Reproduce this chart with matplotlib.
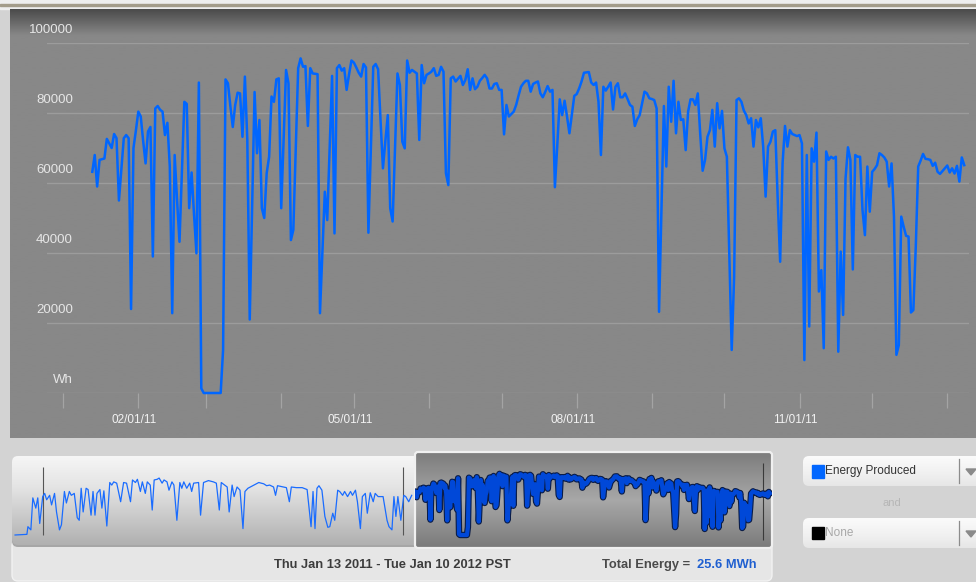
import numpy as np
import matplotlib
matplotlib.use("Agg")
import matplotlib.pyplot as plt
import matplotlib.dates as mdates
import matplotlib.patheffects as pe
import matplotlib.transforms as mtransforms
from matplotlib.patches import FancyBboxPatch, Rectangle, Polygon
from matplotlib.colors import to_rgb

plt.rcParams['font.family'] = ['Liberation Sans', 'DejaVu Sans']

W, H = 976, 582  # picture size in pixels

# Daily energy produced (kWh), Jan 13 2011 .. Jan 8 2012, read per month
jan_2011 = [63.2, 68, 59, 66.6, 66.8, 67, 72.6, 71.3, 70, 74, 72.8, 55, 64, 72.8, 73.7, 72.8, 24, 70, 75]
feb_2011 = [80.4, 79, 72, 65.6, 74.7, 76, 39, 81.3, 82, 80.9, 80.4, 73.7, 77.2, 64.7, 22.8, 68, 55, 43.2,
            63, 83.2, 82.6, 52.8, 63, 51, 39.9, 88.7, 1.3, 0]
mar_2011 = [0, 0, 0, 0, 0, 0, 0, 12.3, 89.6, 88.5, 82, 76, 82.3, 85.8, 85.6, 73.2, 90.4, 72.3, 21, 53, 86,
            68.5, 78, 52.8, 50, 62.8, 67.5, 84.7, 83.2, 89.6, 89.9]
apr_2011 = [52.8, 72.3, 92.3, 88.5, 43.7, 46.6, 70, 92.8, 95.6, 93.2, 93.4, 76.3, 92.8, 91.3, 91.2, 91.1,
            22.8, 40, 57.5, 49.4, 70, 90.6, 45.6, 92.8, 93.7, 92.1, 92.8, 86.6, 91, 95]
may_2011 = [94.4, 93, 91.5, 90.4, 94, 93, 45.8, 69.5, 93.2, 94, 92.5, 78, 64.2, 72, 79.4, 52.8, 49, 70,
            91.3, 88, 71.8, 69.9, 95, 91.5, 92.3, 91.8, 91.3, 72.3, 93.7, 88.5, 90.9]
jun_2011 = [91.3, 91.8, 92.8, 90.6, 90.9, 93.2, 91.8, 62.8, 59.4, 89.9, 90.4, 89, 89.8, 90.6, 88, 89.4,
            92.5, 86.6, 89.9, 86.8, 87.5, 89.2, 90, 90.9, 89.9, 87, 87, 88.3, 88.5, 86.6]
jul_2011 = [86.6, 73.9, 82.3, 79, 79.7, 80.4, 82.3, 85, 87.5, 88.5, 89.2, 89.2, 86.1, 88.3, 88.7, 89, 85.6,
            84.5, 86, 87.7, 86.1, 86.6, 58.8, 71, 83.9, 79.4, 83.5, 79, 74.2, 79.5, 84.9]
aug_2011 = [85.4, 87, 89, 91.5, 91.6, 91.7, 88.7, 88, 88.7, 83.2, 68, 87.5, 86.4, 87.5, 88.7, 81, 87.5,
            88.5, 84.5, 84.5, 85.6, 84, 82.3, 81.8, 76.3, 78.2, 79.4, 82.8, 86.1, 85.6, 84.2]
sep_2011 = [84, 83.7, 81.3, 23.2, 52, 82, 64.7, 87.5, 77.5, 89.2, 74.2, 83.2, 78, 78.2, 69.4, 80.4, 83.9,
            83.9, 82.3, 85.6, 74, 63.5, 66.6, 73.2, 75.1, 80.9, 70.4, 82.8, 75.6, 80.6]
oct_2011 = [69.9, 67.5, 40, 12.3, 33.2, 83.7, 84.2, 83.2, 80.7, 79.4, 77, 78.5, 70.4, 78, 75.9, 78.5, 70.4,
            56.1, 70.4, 71.8, 74.7, 75.1, 55.1, 37.5, 65.6, 76.3, 70.4, 75.1, 74, 73.7, 73.4]
nov_2011 = [73.7, 71.3, 9.4, 68, 19, 69.9, 66.1, 74.4, 29, 35.1, 12.8, 69, 66.6, 67.5, 67, 67.5, 11.8, 40.4,
            22.3, 61.3, 70.2, 66.6, 35.3, 68, 67.5, 67.5, 52.3, 45.1, 64.7, 51.8]
dec_2011 = [63.2, 64, 65.1, 68.5, 68, 67.3, 66.1, 59, 65.6, 50.4, 10.9, 13.7, 50.4, 47.5, 44.9, 44.7, 23,
            23.7, 41.8, 64.7, 66.4, 68.3, 66.9, 66.8, 66.6, 64.9, 65.8, 63.2, 62.6, 63.4, 64.2]
jan_2012 = [65, 63, 64.2, 62.7, 64.9, 60.4, 67.3, 65.1]

# Earlier history shown in the navigator strip: day offset from Jan 1 2010 and kWh
prev_day = [-28, -16, -15, -12, -10, -7, -5, -3, 0, 2, 4, 7, 9, 12, 14, 17, 19, 22, 24, 27, 29, 32, 35, 37,
            39, 41, 44, 46, 49, 51, 53, 55, 58, 60, 62, 65, 68, 70, 72, 75, 79, 82, 85, 89, 91, 94, 96, 99,
            101, 104, 106, 109, 111, 113, 116, 118, 121, 123, 126, 128, 131, 133, 136, 139, 141, 143, 146,
            149, 151, 153, 158, 160, 163, 168, 173, 176, 179, 181, 187, 189, 192, 194, 197, 200, 203, 205,
            208, 214, 219, 224, 227, 230, 234, 236, 238, 244, 247, 250, 252, 257, 263, 268, 272, 274, 276,
            278, 280, 283, 286, 289, 291, 294, 296, 299, 301, 304, 306, 309, 312, 314, 317, 319, 322, 324,
            327, 329, 332, 335, 337, 340, 345, 349, 351, 354, 356, 358, 360, 363, 366, 368, 371, 374]
prev_kwh = [0, 1, 13, 8, 58, 42, 58, 18, 60, 65, 55, 62, 47, 65, 36, 8, 16, 68, 50, 68, 62, 65, 27, 23,
            73, 36, 73, 71, 31, 68, 31, 65, 71, 42, 69, 14, 82, 78, 83, 81, 52, 82, 81, 52, 86, 82, 87, 68,
            83, 65, 83, 78, 39, 86, 87, 89, 81, 86, 83, 70, 83, 78, 23, 82, 73, 83, 73,
            81, 68, 81, 82, 31, 82, 85, 83, 81, 39, 82, 75, 36, 78, 60, 75, 70, 10, 68,
            73, 78, 82, 80, 77, 78, 75, 62, 77, 75, 74, 52, 75, 74, 74, 71, 13, 68, 10,
            73, 77, 70, 29, 12, 13, 34, 23, 70, 68, 62, 68, 60, 68, 62, 70, 52, 10, 60,
            65, 34, 66, 52, 65, 60, 60, 23, 13, 8, 60, 29, 60, 23, 62, 60, 52, 62]

y_ticks = [0, 20000, 40000, 60000, 80000, 100000]
y_labels = ["Wh", "20000", "40000", "60000", "80000", "100000"]

energy_wh = np.concatenate([jan_2011, feb_2011, mar_2011, apr_2011, may_2011, jun_2011, jul_2011,
                            aug_2011, sep_2011, oct_2011, nov_2011, dec_2011, jan_2012]) * 1000
days = np.datetime64('2011-01-13') + np.arange(len(energy_wh))
prev_dates = np.datetime64('2010-01-01') + np.array(prev_day)
prev_wh = np.array(prev_kwh) * 1000


def px_rect(x0, y0, x1, y1):
    # pixel box (from top left) -> figure fraction
    return [x0 / W, 1 - y1 / H, (x1 - x0) / W, (y1 - y0) / H]


def vgrad(ax, x0, x1, y0, y1, stops, clip=None, z=0):
    pos = np.linspace(0, 1, 256)
    ps = [p for p, c in stops]
    cols = np.array([to_rgb(c) for p, c in stops])
    img = np.stack([np.interp(pos, ps, cols[:, k]) for k in range(3)], axis=-1)[:, None, :]
    im = ax.imshow(img, extent=(x0, x1, y1, y0), aspect='auto', interpolation='bilinear', zorder=z)
    if clip is not None:
        im.set_clip_path(clip)
    return im


fig = plt.figure(figsize=(W / 100, H / 100), dpi=100, facecolor='#d3d3d3')

# background layer in pixel coordinates
bg = fig.add_axes([0, 0, 1, 1])
bg.axis('off')
bg.add_patch(Rectangle((0, 0), W, 9, color='#eeeeee', zorder=0))
bg.add_patch(Rectangle((0, 3.5), W, 2, color='#a39c8a', zorder=1))
vgrad(bg, 10, W, 9, 438, [(0, '#4c4c4c'), (0.06, '#888888'), (1, '#888888')], z=1)

# info bar under the navigator
info = FancyBboxPatch((12, 540), 760, 41, boxstyle='round,pad=0,rounding_size=6',
                      facecolor='#e6e6e6', edgecolor='#f2f2f2', lw=1, zorder=1)
bg.add_patch(info)

# navigator left part
bg.add_patch(FancyBboxPatch((12, 458), 411, 89, boxstyle='round,pad=0,rounding_size=6',
                            facecolor='#a6a6a6', edgecolor='none', zorder=2))
navbox = FancyBboxPatch((12, 456), 411, 89, boxstyle='round,pad=0,rounding_size=6',
                        facecolor='none', edgecolor='none', zorder=2)
bg.add_patch(navbox)
vgrad(bg, 12, 423, 456, 545, [(0, '#f6f6f6'), (0.35, '#e4e4e4'), (1, '#b0b0b0')], clip=navbox, z=2)

# selected window
win = FancyBboxPatch((415, 452), 357, 96, boxstyle='round,pad=0,rounding_size=3',
                     facecolor='none', edgecolor='#f0f0f0', lw=1.6, zorder=4)
bg.add_patch(win)
vgrad(bg, 415, 772, 452, 548, [(0, '#7c7c7c'), (0.5, '#a8a8a8'), (1, '#7a7a7a')], clip=win, z=3)

# dropdowns
for top in (456, 518):
    dd = FancyBboxPatch((803, top), 190, 30, boxstyle='round,pad=0,rounding_size=6',
                        facecolor='none', edgecolor='none', zorder=2)
    bg.add_patch(dd)
    vgrad(bg, 803, W, top, top + 30, [(0, '#fbfbfb'), (0.6, '#f0f0f0'), (1, '#e6e6e6')], clip=dd, z=2)
    bg.plot([959, 959], [top + 3, top + 27], color='#8c8c8c', lw=0.9, zorder=3)
    bg.add_patch(Polygon([(966, top + 13), (976, top + 13), (971, top + 19)], closed=True,
                         color='#8a8a8a', zorder=3))
bg.add_patch(Rectangle((812, 465), 12, 13, color='#0066ff', zorder=3))
bg.text(825, 471, "Energy Produced", fontsize=8.5, color='#333333', va='center', ha='left', zorder=4)
bg.text(892, 503, "and", fontsize=8, color='#b6b6b6', va='center', ha='center', zorder=4)
bg.add_patch(Rectangle((812, 527), 12, 12, color='#000000', zorder=3))
bg.text(825, 533, "None", fontsize=8.5, color='#a8a8a8', va='center', ha='left', zorder=4)

bg.text(392, 565, "Thu Jan 13 2011 - Tue Jan 10 2012 PST", fontsize=9.3, fontweight='bold',
        color='#3c3c3c', ha='center', va='center', zorder=4)
bg.text(690, 565, "Total Energy =", fontsize=9.3, fontweight='bold', color='#4a4a4a',
        ha='right', va='center', zorder=4)
bg.text(697, 565, "25.6 MWh", fontsize=9.3, fontweight='bold', color='#1f5fd0',
        ha='left', va='center', zorder=4)

bg.set_xlim(0, W)
bg.set_ylim(H, 0)

# main chart
X0, PX_DAY = 92.3, 2.422
start = mdates.date2num(np.datetime64('2011-01-13'))
ax = fig.add_axes(px_rect(47, 43, 969, 393))
ax.set_facecolor('none')
for s in ax.spines.values():
    s.set_visible(False)
ax.plot(days, energy_wh, color='#0066ff', lw=1.8, solid_joinstyle='round', clip_on=False, zorder=3)
ax.set_xlim(start + (47 - X0) / PX_DAY, start + (969 - X0) / PX_DAY)
ax.set_ylim(0, 100000)
ax.set_yticks(y_ticks)
ax.yaxis.grid(True, color='#9c9c9c', lw=1.0)
ax.tick_params(axis='y', length=0, labelleft=False)
lab_tr = mtransforms.offset_copy(ax.get_yaxis_transform(), fig=fig, y=13, units='dots')
for v, t in zip(y_ticks, y_labels):
    ax.text(26 / 922, v, t, transform=lab_tr, ha='right', va='center', fontsize=9.5, color='#e6e6e6')

ax.xaxis.set_major_locator(mdates.MonthLocator(bymonth=[2, 5, 8, 11]))
ax.xaxis.set_minor_locator(mdates.MonthLocator())
ax.xaxis.set_major_formatter(mdates.DateFormatter('%m/%d/%y'))
ax.tick_params(axis='x', which='both', length=10.8, width=0.9, color='#a4a4a4', direction='out')
ax.tick_params(axis='x', which='major', labelsize=8.5, labelcolor='#f2f2f2', pad=4)
shift = mtransforms.ScaledTranslation(-4 / 100, 0, fig.dpi_scale_trans)
for lbl in ax.get_xticklabels():
    lbl.set_transform(lbl.get_transform() + shift)

# navigator
base = mdates.date2num(np.datetime64('2010-01-01'))
NX0, NPX_DAY = 42.7, 0.9866
nav = fig.add_axes(px_rect(12, 453, 772, 548))
nav.axis('off')
nav.set_facecolor('none')
nav.plot(prev_dates, prev_wh, color='#1a6cff', lw=0.9, zorder=2)
nav.vlines([np.datetime64('2010-01-01'), np.datetime64('2011-01-01')], 0, 106000,
           color='#555555', lw=0.8, zorder=1)
nav.vlines([np.datetime64('2012-01-01')], -7800, 112000, color='#3a3a3a', lw=0.8, zorder=1)
thick = nav.plot(days, energy_wh, color='#0048d8', lw=3.0, zorder=3,
                 path_effects=[pe.Stroke(linewidth=4.6, foreground='#0b1d48'), pe.Normal()])[0]
thick.set_clip_path(win)
nav.set_xlim(base + (12 - NX0) / NPX_DAY, base + (772 - NX0) / NPX_DAY)
nav.set_ylim((535 - 548) / 64 * 100000, (535 - 453) / 64 * 100000)

fig.savefig("out.png", dpi=100, facecolor=fig.get_facecolor())
